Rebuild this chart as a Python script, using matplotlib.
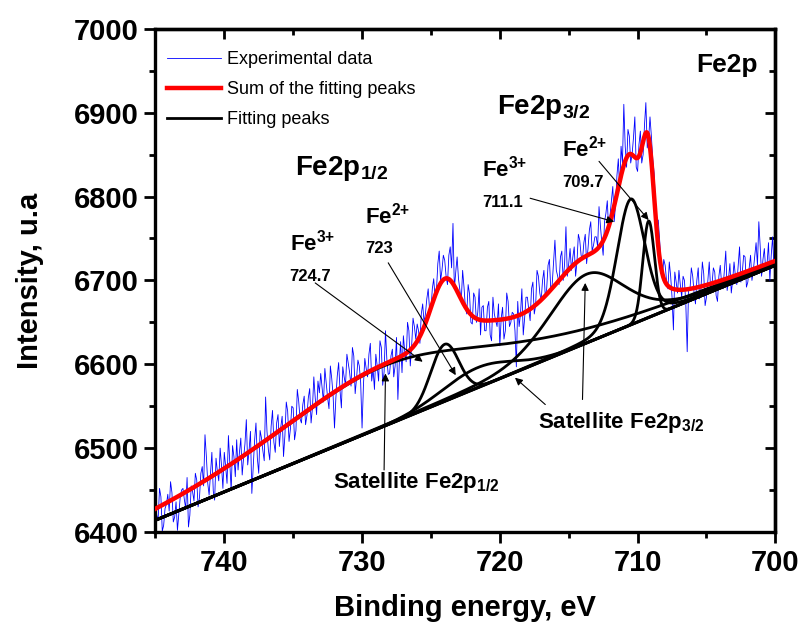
import numpy as np
import matplotlib
matplotlib.use("Agg")
import matplotlib.pyplot as plt
from matplotlib.ticker import MultipleLocator

plt.rcParams["font.family"] = "Liberation Sans"
plt.rcParams["mathtext.fontset"] = "custom"
plt.rcParams["mathtext.rm"] = "Liberation Sans"
plt.rcParams["mathtext.bf"] = "Liberation Sans:bold"

# experimental spectrum, 0.1 eV step from 745 to 700 eV (one row per eV)
e_start, e_stop = 745.0, 700.0
counts = [
    6438, 6420, 6415, 6452, 6442, 6401, 6408, 6428, 6433, 6445,
    6425, 6460, 6447, 6412, 6418, 6436, 6402, 6421, 6441, 6450,
    6452, 6439, 6428, 6465, 6406, 6420, 6455, 6448, 6437, 6470,
    6462, 6430, 6441, 6470, 6478, 6455, 6516, 6490, 6458, 6444,
    6470, 6495, 6449, 6438, 6488, 6472, 6461, 6500, 6479, 6452,
    6495, 6478, 6458, 6515, 6482, 6450, 6503, 6490, 6466, 6510,
    6474, 6495, 6512, 6468, 6488, 6505, 6534, 6480, 6497, 6520,
    6446, 6478, 6509, 6530, 6488, 6470, 6521, 6512, 6497, 6485,
    6561, 6520, 6498, 6486, 6526, 6545, 6507, 6495, 6530, 6540,
    6502, 6525, 6538, 6490, 6515, 6555, 6544, 6508, 6523, 6550,
    6548, 6510, 6521, 6570, 6556, 6535, 6530, 6552, 6562, 6528,
    6539, 6560, 6571, 6530, 6548, 6585, 6560, 6540, 6580, 6566,
    6589, 6572, 6555, 6595, 6578, 6560, 6547, 6598, 6583, 6562,
    6524, 6560, 6586, 6602, 6569, 6548, 6597, 6585, 6575, 6612,
    6601, 6590, 6574, 6620, 6610, 6565, 6583, 6605, 6598, 6578,
    6524, 6575, 6607, 6595, 6585, 6612, 6625, 6580, 6594, 6570,
    6612, 6598, 6580, 6628, 6620, 6575, 6591, 6640, 6606, 6588,
    6589, 6610, 6618, 6585, 6598, 6632, 6558, 6600, 6627, 6590,
    6634, 6615, 6603, 6650, 6640, 6598, 6622, 6655, 6645, 6630,
    6648, 6640, 6625, 6660, 6672, 6650, 6660, 6678, 6690, 6665,
    6665, 6690, 6702, 6680, 6688, 6720, 6735, 6700, 6712, 6730,
    6724, 6705, 6695, 6730, 6740, 6715, 6768, 6690, 6710, 6728,
    6702, 6688, 6675, 6712, 6692, 6668, 6660, 6695, 6684, 6650,
    6648, 6685, 6680, 6650, 6662, 6690, 6635, 6668, 6670, 6640,
    6640, 6668, 6675, 6635, 6628, 6680, 6660, 6652, 6645, 6672,
    6622, 6655, 6668, 6630, 6640, 6685, 6675, 6645, 6650, 6662,
    6660, 6640, 6597, 6675, 6645, 6660, 6690, 6635, 6655, 6680,
    6680, 6665, 6652, 6690, 6698, 6660, 6670, 6712, 6705, 6685,
    6676, 6700, 6712, 6680, 6690, 6718, 6725, 6688, 6695, 6722,
    6748, 6712, 6705, 6695, 6728, 6735, 6700, 6720, 6764, 6705,
    6720, 6738, 6712, 6728, 6740, 6705, 6722, 6755, 6748, 6730,
    6725, 6745, 6755, 6720, 6738, 6760, 6770, 6735, 6742, 6752,
    6752, 6740, 6788, 6765, 6746, 6730, 6770, 6780, 6795, 6760,
    6778, 6795, 6812, 6770, 6790, 6825, 6845, 6808, 6860, 6840,
    6910, 6860, 6835, 6880, 6872, 6840, 6850, 6870, 6895, 6835,
    6830, 6862, 6878, 6840, 6850, 6885, 6912, 6858, 6868, 6895,
    6872, 6845, 6828, 6790, 6762, 6772, 6748, 6720, 6705, 6725,
    6718, 6700, 6690, 6722, 6705, 6680, 6641, 6710, 6698, 6685,
    6712, 6695, 6680, 6705, 6700, 6672, 6615, 6690, 6688, 6715,
    6705, 6685, 6672, 6700, 6715, 6678, 6690, 6722, 6708, 6670,
    6680, 6700, 6722, 6690, 6695, 6715, 6710, 6682, 6675, 6705,
    6718, 6695, 6690, 6712, 6735, 6688, 6702, 6720, 6685, 6700,
    6722, 6705, 6695, 6718, 6740, 6698, 6710, 6730, 6728, 6692,
    6698, 6715, 6730, 6700, 6712, 6728, 6745, 6718, 6770, 6740,
    6705, 6725, 6738, 6712, 6720, 6745, 6700, 6730, 6752, 6715,
    6725,
]

# linear background end points
bg_energy = [745.0, 700.0]
bg_level = [6414, 6718]

# fitted components (pseudo-Voigt): centre, height, fwhm, lorentz fraction
peak_center = [728.5, 724.0, 721.6, 713.7, 710.5, 709.2]
peak_height = [72, 68, 24, 82, 150, 115]
peak_fwhm = [19.0, 2.4, 6.0, 6.5, 2.4, 1.0]
peak_eta = [0.5, 0.0, 0.0, 0.3, 0.2, 0.0]


def pseudo_voigt(e, c, h, w, eta):
    x = (e - c) / w
    g = np.exp(-4 * np.log(2) * x ** 2)
    l = 1 / (1 + 4 * x ** 2)
    return h * ((1 - eta) * g + eta * l)


energy = np.linspace(e_start, e_stop, len(counts))
e_fit = np.linspace(e_start, e_stop, 1201)
background = np.interp(e_fit, bg_energy[::-1], bg_level[::-1])
peaks = [pseudo_voigt(e_fit, c, h, w, eta)
         for c, h, w, eta in zip(peak_center, peak_height, peak_fwhm, peak_eta)]
total = background + np.sum(peaks, axis=0)

fig = plt.figure(figsize=(8.01, 6.27), dpi=100)
ax = fig.add_axes([0.194, 0.1515, 0.774, 0.8025])

ax.plot(energy, counts, color="#0000ff", lw=0.6, label="Experimental data", zorder=1)
ax.plot(e_fit, background, color="black", lw=2.2, zorder=2)
for i, p in enumerate(peaks):
    ax.plot(e_fit, background + p, color="black", lw=2.0, zorder=2,
            label="Fitting peaks" if i == 0 else None)
ax.plot(e_fit, total, color="#ff0000", lw=3.2, label="Sum of the fitting peaks", zorder=3)

ax.set_xlim(745, 700)
ax.set_ylim(6400, 7000)
ax.xaxis.set_major_locator(MultipleLocator(10))
ax.xaxis.set_minor_locator(MultipleLocator(5))
ax.yaxis.set_major_locator(MultipleLocator(100))
ax.yaxis.set_minor_locator(MultipleLocator(50))
ax.tick_params(which="both", direction="out", width=2, labelsize=21, top=False, right=False)
ax.tick_params(which="major", length=8, pad=4)
ax.tick_params(which="minor", length=4.5)
for lab in ax.get_xticklabels() + ax.get_yticklabels():
    lab.set_fontweight("bold")
for sp in ax.spines.values():
    sp.set_linewidth(2.4)

# mirrored axes with inward ticks
top = ax.secondary_xaxis("top")
top.xaxis.set_major_locator(MultipleLocator(10))
top.xaxis.set_minor_locator(MultipleLocator(5))
top.tick_params(which="both", direction="in", width=2, labeltop=False)
top.tick_params(which="major", length=7)
top.tick_params(which="minor", length=4.5)
top.spines["top"].set_linewidth(2.4)
right = ax.secondary_yaxis("right")
right.yaxis.set_major_locator(MultipleLocator(100))
right.yaxis.set_minor_locator(MultipleLocator(50))
right.tick_params(which="both", direction="in", width=2, labelright=False)
right.tick_params(which="major", length=7)
right.tick_params(which="minor", length=4)
right.spines["right"].set_linewidth(2.4)

ax.set_xlabel("Binding energy, eV", fontsize=21, fontweight="bold")
ax.set_ylabel("Intensity, u.a", fontsize=21, fontweight="bold")
ax.xaxis.set_label_coords(0.5, -0.123)
ax.yaxis.set_label_coords(-0.18, 0.5)

h, l = ax.get_legend_handles_labels()
order = [0, 2, 1]
ax.legend([h[k] for k in order], [l[k] for k in order], loc="upper left",
          bbox_to_anchor=(0.018, 0.956), frameon=False, fontsize=13,
          handlelength=3.0, handletextpad=0.35, labelspacing=0.73,
          borderpad=0, borderaxespad=0)

# labels
ax.text(701.3, 6949, "Fe2p", fontsize=19, fontweight="bold", ha="right")
ax.text(720.2, 6898, r"Fe2p$_{\mathbf{3/2}}$", fontsize=20, fontweight="bold")
ax.text(734.9, 6826, r"Fe2p$_{\mathbf{1/2}}$", fontsize=20, fontweight="bold")
ax.text(735.2, 6736, r"Fe$^{\mathbf{3}\mathbf{+}}$", fontsize=16, fontweight="bold")
ax.text(735.3, 6699, "724.7", fontsize=12, fontweight="bold")
ax.text(729.8, 6768, r"Fe$^{\mathbf{2}\mathbf{+}}$", fontsize=16, fontweight="bold")
ax.text(729.8, 6733, "723", fontsize=12, fontweight="bold")
ax.text(721.3, 6824, r"Fe$^{\mathbf{3}\mathbf{+}}$", fontsize=16, fontweight="bold")
ax.text(721.3, 6788, "711.1", fontsize=12, fontweight="bold")
ax.text(715.5, 6848, r"Fe$^{\mathbf{2}\mathbf{+}}$", fontsize=16, fontweight="bold")
ax.text(715.5, 6812, "709.7", fontsize=12, fontweight="bold")
ax.text(717.2, 6524, r"Satellite Fe2p$_{\mathbf{3/2}}$", fontsize=16, fontweight="bold")
ax.text(732.1, 6452, r"Satellite Fe2p$_{\mathbf{1/2}}$", fontsize=16, fontweight="bold")

arrow = dict(arrowstyle="-|>", color="black", lw=0.8, mutation_scale=11, shrinkA=0, shrinkB=0)
for tail, head in [((733.4, 6697), (725.6, 6603)),
                   ((728.1, 6721), (723.2, 6587)),
                   ((717.8, 6798), (711.7, 6770)),
                   ((712.8, 6842), (709.2, 6772)),
                   ((728.4, 6474), (728.3, 6589)),
                   ((716.7, 6552), (718.9, 6584)),
                   ((714.0, 6558), (713.8, 6697))]:
    ax.annotate("", xy=head, xytext=tail, arrowprops=arrow, zorder=4)

fig.savefig("out.png", dpi=100)
